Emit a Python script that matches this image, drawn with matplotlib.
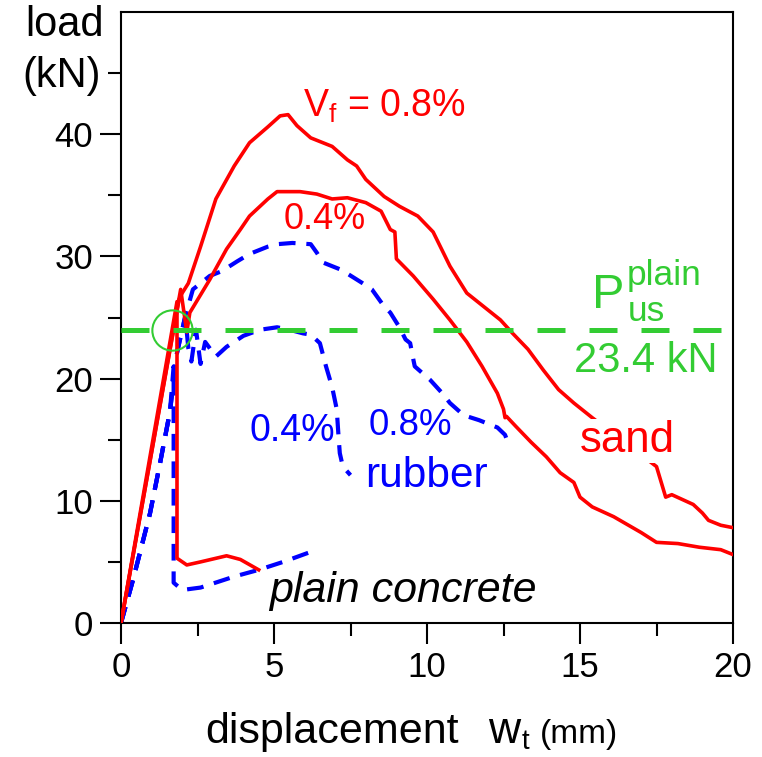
import matplotlib
matplotlib.use("Agg")
import matplotlib.pyplot as plt

plt.rcParams['font.family'] = ['Liberation Sans', 'DejaVu Sans']
plt.rcParams['mathtext.fontset'] = 'custom'
plt.rcParams['mathtext.rm'] = 'Liberation Sans'
plt.rcParams['mathtext.it'] = 'Liberation Sans:italic'

RED = '#ff0000'
BLUE = '#0000ff'
GREEN = '#33cc33'

# --- curves (displacement mm, load kN)
sand08_x = [0, 1.9, 2.0, 2.2, 2.6, 3.1, 3.7, 4.2, 4.8, 5.2, 5.46, 5.75, 6.2, 6.5, 6.9,
            7.4, 7.7, 8.0, 8.6, 9.1, 9.7, 10.2, 10.75, 11.3, 11.7, 12.1, 12.4, 12.8,
            13.3, 13.8, 14.3, 14.8, 15.4, 16.4, 17.5, 17.8, 18.0, 18.7, 19.0, 19.2,
            19.6, 20.0]
sand08_y = [0, 26.5, 27.0, 27.8, 30.8, 34.7, 37.4, 39.3, 40.6, 41.5, 41.6, 40.7, 39.7,
            39.4, 39.0, 37.9, 37.4, 36.3, 34.9, 34.1, 33.3, 32.0, 29.2, 27.0, 26.2,
            25.4, 24.8, 23.7, 22.4, 20.7, 19.1, 18.0, 16.8, 14.9, 12.8, 10.3, 10.5,
            9.7, 9.0, 8.4, 8.0, 7.8]

sand04_x = [0, 1.95, 2.15, 2.25, 2.9, 3.45, 3.9, 4.2, 4.8, 5.1, 5.85, 6.4, 6.9, 7.4, 8.0,
            8.5, 8.8, 8.95, 9.0, 9.55, 10.2, 10.75, 11.3, 11.8, 12.3, 12.5, 12.55, 12.6,
            12.9, 13.4, 13.9, 14.35, 14.8, 15.0, 15.4, 16.1, 17.0, 17.5, 18.2, 18.9,
            19.6, 20.0]
sand04_y = [0, 27.3, 23.8, 25.4, 28.1, 30.6, 32.2, 33.3, 34.7, 35.3, 35.3, 35.1, 34.7,
            34.8, 34.4, 33.7, 32.2, 32.0, 29.8, 28.4, 26.5, 24.8, 23.0, 21.0, 18.8, 17.5,
            16.8, 16.9, 16.1, 14.8, 13.6, 12.3, 11.5, 10.3, 9.5, 8.7, 7.4, 6.6, 6.5, 6.2,
            6.0, 5.6]

plain_sand_x = [0, 1.83, 1.83, 2.15, 2.6, 3.45, 3.9, 4.5]
plain_sand_y = [0, 26.3, 5.3, 4.75, 5.0, 5.5, 5.2, 4.35]

rub08_x = [0, 0.4, 0.95, 1.27, 1.6, 1.83, 2.1, 2.35, 2.9, 3.3, 3.8, 4.2, 4.8, 5.1, 5.6,
           6.2, 6.4, 6.6, 7.2, 7.9, 8.2, 8.6, 8.8, 9.1, 9.3, 9.45, 9.55, 9.6, 10.1, 10.5,
           10.75, 11.2, 11.7, 12.3, 12.55, 12.7]
rub08_y = [0, 3.6, 9.0, 13.0, 17.3, 22.1, 25.1, 27.3, 28.4, 28.8, 29.6, 30.2, 30.8,
           31.0, 31.1, 31.0, 30.3, 29.5, 28.9, 27.8, 27.3, 25.9, 25.4, 24.2, 23.2, 22.9,
           21.6, 21.0, 19.9, 18.8, 18.0, 17.0, 16.6, 16.0, 15.4, 14.4]

rub04_x = [0, 0.4, 0.95, 1.27, 1.6, 1.83, 2.1, 2.2, 2.3, 2.45, 2.6, 2.75, 3.1, 3.45, 4.0,
           4.55, 5.1, 5.5, 5.95, 6.2, 6.5, 6.7, 6.9, 7.05, 7.1, 7.15, 7.25, 7.5]
rub04_y = [0, 3.6, 9.0, 13.0, 17.3, 22.1, 25.1, 22.5, 21.4, 24.0, 21.2, 23.0, 21.8,
           22.6, 23.5, 24.0, 24.2, 24.0, 23.7, 23.6, 22.9, 21.0, 19.3, 17.5, 15.6, 13.9,
           12.8, 12.1]

plain_rub_x = [0, 0.4, 0.95, 1.27, 1.6, 1.72, 1.72, 2.0, 2.6, 3.7, 4.5, 5.3, 6.4]
plain_rub_y = [0, 3.6, 9.0, 13.0, 17.3, 21.0, 3.3, 2.7, 2.9, 3.8, 4.35, 5.0, 6.0]

p_plain = 24.0
p_plain_label = '23.4 kN'
circle_x, circle_y = 1.67, 24.0

fig = plt.figure(figsize=(7.62, 7.57), dpi=100)
ax = fig.add_axes([121 / 762, 1 - 623 / 757, 612 / 762, 611 / 757])

dash_b = (4, 2.6)
ax.plot(rub08_x, rub08_y, color=BLUE, lw=3, dashes=dash_b, zorder=2)
ax.plot(rub04_x, rub04_y, color=BLUE, lw=3, dashes=dash_b, zorder=2)
ax.plot(plain_rub_x, plain_rub_y, color=BLUE, lw=3, dashes=dash_b, zorder=2)
ax.plot(sand08_x, sand08_y, color=RED, lw=2.6, zorder=3)
ax.plot(sand04_x, sand04_y, color=RED, lw=2.6, zorder=3)
ax.plot(plain_sand_x, plain_sand_y, color=RED, lw=2.6, zorder=3)

ax.plot([0, 19.6], [p_plain, p_plain], color=GREEN, lw=3.6, dashes=(5.6, 4.8), zorder=4)
ax.plot([circle_x], [circle_y], 'o', ms=29, mfc='none', mec=GREEN, mew=1.5, zorder=5)

ax.set_xlim(0, 20)
ax.set_ylim(0, 50)
ax.set_xticks([0, 5, 10, 15, 20])
ax.set_xticks([2.5, 7.5, 12.5, 17.5], minor=True)
ax.set_yticks([0, 10, 20, 30, 40])
ax.set_yticks([5, 15, 25, 35, 45], minor=True)
ax.tick_params(axis='both', which='major', direction='out', length=15, width=1.5,
               labelsize=25, pad=5)
ax.tick_params(axis='both', which='minor', direction='out', length=9.2, width=1.5)
for s in ax.spines.values():
    s.set_linewidth(1.5)

# annotations
ax.text(8.6, 42.3, r'V$_\mathregular{f}$ = 0.8%', color=RED, fontsize=27,
        ha='center', va='center')
ax.text(6.67, 33.0, '0.4%', color=RED, fontsize=26, ha='center', va='center')
ax.text(5.6, 15.7, '0.4%', color=BLUE, fontsize=27, ha='center', va='center')
ax.text(9.45, 16.2, '0.8%', color=BLUE, fontsize=26.5, ha='center', va='center')
ax.text(9.97, 12.0, 'rubber', color=BLUE, fontsize=30.5, ha='center', va='center')
ax.text(9.2, 2.6, 'plain concrete', color='black', fontsize=31, style='italic',
        ha='center', va='center')
ax.text(16.55, 14.9, 'sand', color=RED, fontsize=31.5, ha='center', va='center',
        zorder=6, bbox=dict(facecolor='white', edgecolor='none', pad=1))
ax.text(15.39, 25.8, 'P', color=GREEN, fontsize=35, ha='left', va='baseline', zorder=6)
ax.text(16.53, 27.7, 'plain', color=GREEN, fontsize=25.5, ha='left', va='baseline', zorder=6)
ax.text(16.57, 24.7, 'us', color=GREEN, fontsize=25.5, ha='left', va='baseline', zorder=6)
ax.text(19.48, 21.4, p_plain_label, color=GREEN, fontsize=30, ha='right', va='center',
        zorder=6)

# axis titles
fig.text(65 / 762, 1 - 25 / 757, 'load', fontsize=30, ha='center', va='center')
fig.text(62 / 762, 1 - 76 / 757, '(kN)', fontsize=30, ha='center', va='center')
fig.text(205 / 762, 1 - 743 / 757, 'displacement', fontsize=31, ha='left', va='baseline')
fig.text(488 / 762, 1 - 743 / 757, 'w', fontsize=32, ha='left', va='baseline')
fig.text(522 / 762, 1 - 749 / 757, 't', fontsize=20, ha='left', va='baseline')
fig.text(540 / 762, 1 - 743 / 757, '(mm)', fontsize=24, ha='left', va='baseline')

fig.savefig('out.png', dpi=100)
